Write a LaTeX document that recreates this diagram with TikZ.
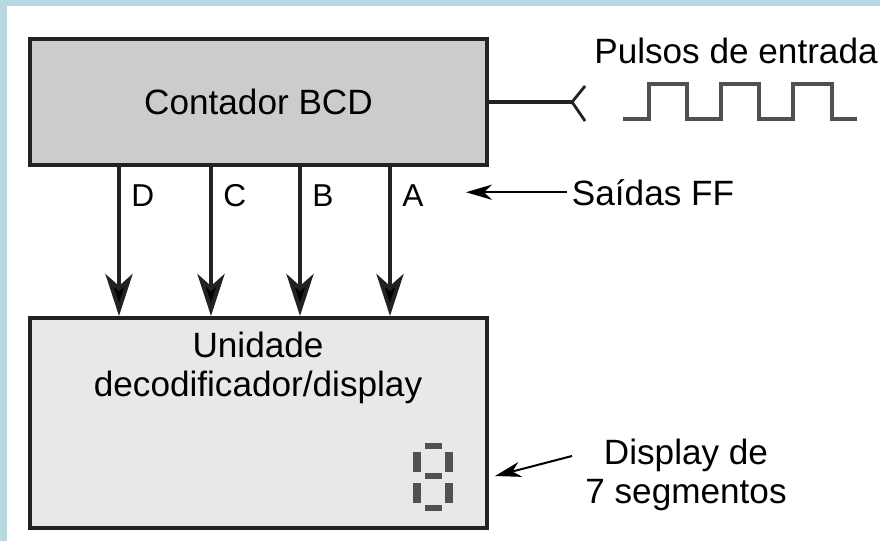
\documentclass[tikz,border=0pt]{standalone}
\usepackage{fontspec}
\setmainfont{Liberation Sans}
\usepackage{tikz}
\usetikzlibrary{arrows.meta,positioning,calc}
\definecolor{FrameBlue}{HTML}{B7D9E1}
\definecolor{CounterGray}{HTML}{CCCCCC}
\definecolor{DecoderGray}{HTML}{E8E8E8}
\definecolor{EdgeBlack}{HTML}{222222}
\definecolor{WaveGray}{HTML}{505050}

\begin{document}
\begin{tikzpicture}[x=0.025cm,y=-0.025cm,
  box/.style={draw=EdgeBlack,line width=0.1cm,minimum width=11.425cm,inner sep=0pt},
  txt/.style={font=\fontsize{25}{27.5}\selectfont},
  lbl/.style={font=\fontsize{22.5}{25}\selectfont,inner sep=0pt},
  bus/.style={draw=EdgeBlack,line width=0.1cm,-{Stealth[length=1.05cm,width=0.68cm,inset=0.3cm,fill=black]}},
  pointer/.style={line width=0.05cm,-{Stealth[length=0.65cm,width=0.38cm,inset=0.2cm]}},
  wire/.style={draw=EdgeBlack,line width=0.1cm},
  wave/.style={draw=WaveGray,line width=0.1cm}]
% frame
\fill[FrameBlue] (0,0) rectangle (880,541);
\fill[white] (7,6) rectangle (880,541);
\useasboundingbox (0,0) rectangle (880,541);

% counter and decoder
\node[box,fill=CounterGray,minimum height=3.15cm,txt] (counter) at (258.5,102) {Contador BCD};
\node[box,fill=DecoderGray,minimum height=5.25cm] (decoder) at (258.5,423) {};
\node[txt,align=center] (unit) at (258,368) {Unidade\\decodificador/display};

% flip-flop outputs
\foreach \l/\x in {D/119,C/211,B/300,A/390}{
  \draw[bus] (counter.south -| \x,0) -- (decoder.north -| \x,0);
  \node[lbl,anchor=base west] (lab\l) at (\x+12,206) {\l};
}
\node[txt,anchor=base west] (ffs) at (567,205) {Saídas FF};
\coordinate (ffTip) at (466,195);
\draw[pointer] (ffs.west) -- (ffs.west -| ffTip);

% clock input
\draw[wire] (counter.east) -- ++(83,0) coordinate (fork);
\draw[line width=0.07cm,EdgeBlack] (fork) -- ++(13,-16) (fork) -- ++(13,19);
\node[txt,anchor=base] (pulses) at (736,63) {Pulsos de entrada};
\draw[wave] (623,119) -- (649,119) -- (649,84) -- (687,84) -- (687,119) -- (721,119)
  -- (721,84) -- (759,84) -- (759,119) -- (793,119) -- (793,84) -- (832,84) -- (832,119) -- (857,119);

% seven segment digit
\foreach \a/\b in {425/443,425/473,425/505}
  \fill[WaveGray] (\a,\b) rectangle ++(17,6);
\foreach \a/\b in {413/452,445/452,413/483,445/483}
  \fill[WaveGray] (\a,\b) rectangle ++(8,20);
\node[txt,align=center] (disp) at (686,475) {Display de\\7 segmentos};
\coordinate (dispTail) at (572,456);
\coordinate (dispTip) at (495,476);
\draw[pointer] (dispTail) -- (dispTip);
\end{tikzpicture}
\end{document}
